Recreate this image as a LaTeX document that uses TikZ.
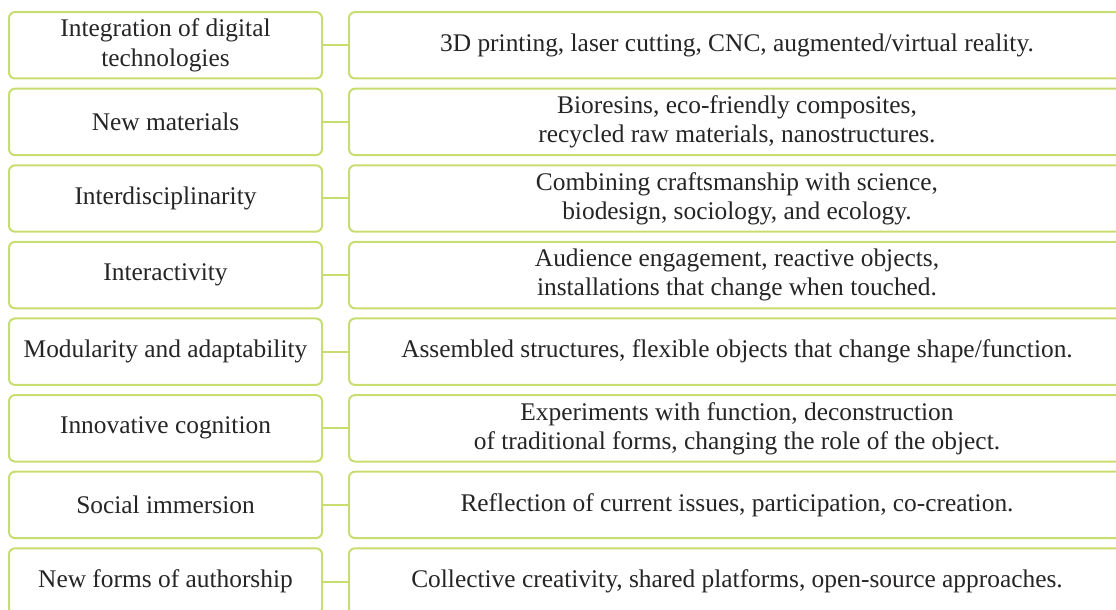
\documentclass[tikz,border=0pt]{standalone}
\usepackage{fontspec}
\setmainfont{Liberation Serif}
\usepackage{tikz}
\definecolor{limeline}{RGB}{200,221,112}
\definecolor{inktext}{RGB}{38,36,37}

\begin{document}
\begin{tikzpicture}[x=0.5pt, y=-0.5pt,
	  every node/.style={font=\fontsize{12.7}{14.5}\selectfont, text=inktext, align=center},
	  keybox/.style={draw=limeline, line width=1pt, rounded corners=3pt, minimum width=156.5pt, minimum height=33.2pt},
	  infobox/.style={draw=limeline, line width=1pt, rounded corners=3pt, minimum width=388pt, minimum height=33.2pt},
	  link/.style={draw=limeline, line width=1pt}]
	  \path[use as bounding box, clip] (0,0) rectangle (1116,610);
	  \node [keybox] (k1) at (165.5, 45.3) {Integration of digital\\technologies};
	  \node [keybox] (k2) at (165.5, 121.9) {New materials};
	  \node [keybox] (k3) at (165.5, 198.5) {Interdisciplinarity};
	  \node [keybox] (k4) at (165.5, 275.1) {Interactivity};
	  \node [keybox] (k5) at (165.5, 351.7) {Modularity and adaptability};
	  \node [keybox] (k6) at (165.5, 428.3) {Innovative cognition};
	  \node [keybox] (k7) at (165.5, 504.9) {Social immersion};
	  \node [keybox] (k8) at (165.5, 581.5) {New forms of authorship};
	  \node [infobox] (i1) at (737, 45.3) {3D printing, laser cutting, CNC, augmented/virtual reality.};
	  \node [infobox] (i2) at (737, 121.9) {Bioresins, eco-friendly composites,\\recycled raw materials, nanostructures.};
	  \node [infobox] (i3) at (737, 198.5) {Combining craftsmanship with science,\\biodesign, sociology, and ecology.};
	  \node [infobox] (i4) at (737, 275.1) {Audience engagement, reactive objects,\\installations that change when touched.};
	  \node [infobox] (i5) at (737, 351.7) {Assembled structures, flexible objects that change shape/function.};
	  \node [infobox] (i6) at (737, 428.3) {Experiments with function, deconstruction\\of traditional forms, changing the role of the object.};
	  \node [infobox] (i7) at (737, 504.9) {Reflection of current issues, participation, co-creation.};
	  \node [infobox] (i8) at (737, 581.5) {Collective creativity, shared platforms, open-source approaches.};
	  \draw [link] (k1) -- (i1);
	  \draw [link] (k2) -- (i2);
	  \draw [link] (k3) -- (i3);
	  \draw [link] (k4) -- (i4);
	  \draw [link] (k5) -- (i5);
	  \draw [link] (k6) -- (i6);
	  \draw [link] (k7) -- (i7);
	  \draw [link] (k8) -- (i8);
	 \end{tikzpicture}
\end{document}
